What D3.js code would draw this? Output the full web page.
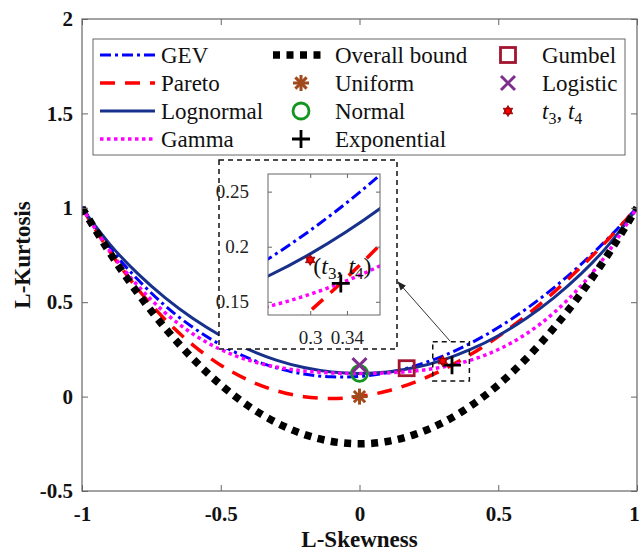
<!DOCTYPE html>
<html>
<head>
<meta charset="utf-8">
<script src="https://cdn.jsdelivr.net/npm/d3@7"></script>
<style>
  body { margin: 0; background: #fff; }
  svg { display: block; }
</style>
</head>
<body>
<svg id="chart"></svg>
<script>
const skewGrid = [-1, -0.9, -0.8, -0.7, -0.6, -0.5, -0.4, -0.3, -0.2, -0.1, 0,
                  0.1, 0.2, 0.3, 0.4, 0.5, 0.6, 0.7, 0.8, 0.9, 1];
// L-kurtosis of each curve at those positions
const gevKurt = [1.0066, 0.7916, 0.6214, 0.4808, 0.3661, 0.2742, 0.2034, 0.1521, 0.1193, 0.1045, 0.1070,
                 0.1265, 0.1626, 0.2148, 0.2827, 0.3658, 0.4638, 0.5762, 0.7029, 0.8443, 1.0008];
const paretoKurt = [0.9989, 0.7684, 0.5719, 0.4073, 0.2728, 0.1665, 0.0866, 0.0315, -0.0003, -0.0104, 0,
                    0.0296, 0.0772, 0.1418, 0.2224, 0.3182, 0.4284, 0.5522, 0.6892, 0.8389, 1.0009];
const lognormKurt = [0.9981, 0.8077, 0.6526, 0.5226, 0.4133, 0.3226, 0.2495, 0.1935, 0.1540, 0.1306, 0.1228,
                     0.1306, 0.1540, 0.1935, 0.2495, 0.3226, 0.4133, 0.5226, 0.6526, 0.8077, 0.9981];
const gammaKurt = [1.0006, 0.7729, 0.5894, 0.4435, 0.3314, 0.2493, 0.1929, 0.1569, 0.1359, 0.1255, 0.1224,
                   0.1255, 0.1359, 0.1569, 0.1929, 0.2493, 0.3314, 0.4435, 0.5894, 0.7729, 1.0006];
const boundKurt = [1, 0.7625, 0.55, 0.3625, 0.2, 0.0625, -0.05, -0.1375, -0.2, -0.2375, -0.25,
                   -0.2375, -0.2, -0.1375, -0.05, 0.0625, 0.2, 0.3625, 0.55, 0.7625, 1];

// single distributions / sample point
const pointNames = ["Uniform", "Normal", "Exponential", "Gumbel", "Logistic", "t3t4"];
const pointSkew = [0, 0, 0.3333, 0.1699, 0, 0.30];
const pointKurt = [0, 0.1226, 0.1667, 0.1504, 0.1667, 0.188];

const xTicks = [-1, -0.5, 0, 0.5, 1];
const yTicks = [-0.5, 0, 0.5, 1, 1.5, 2];
const insetXTicks = [0.3, 0.34];
const insetYTicks = [0.15, 0.2, 0.25];

const serif = "'Liberation Serif', 'Times New Roman', serif";
const width = 641, height = 552;
const svg = d3.select("#chart").attr("width", width).attr("height", height)
    .attr("font-family", serif);
svg.append("rect").attr("width", width).attr("height", height).attr("fill", "#fff");

const x = d3.scaleLinear().domain([-1, 1]).range([82, 637]);
const y = d3.scaleLinear().domain([-0.5, 2]).range([491, 19]);

const curveStyles = [
    {name: "GEV", values: gevKurt, color: "#0000ff", dash: "11,4,3,4", w: 3},
    {name: "Pareto", values: paretoKurt, color: "#ff0000", dash: "15,10", w: 3.5},
    {name: "Lognormal", values: lognormKurt, color: "#17308c", dash: null, w: 3},
    {name: "Gamma", values: gammaKurt, color: "#ff00ff", dash: "3.5,3.5", w: 3.5},
    {name: "Overall bound", values: boundKurt, color: "#000", dash: "7,6.5", w: 7.5}
];

function drawMarker(g, name, cx, cy) {
    const m = g.append("g").attr("transform", `translate(${cx},${cy})`);
    if (name === "Uniform") {
        [0, 45, 90, 135].forEach(a => {
            m.append("line").attr("x1", -8).attr("x2", 8)
                .attr("transform", `rotate(${a})`)
                .attr("stroke", "#a14a1c").attr("stroke-width", 3);
        });
    } else if (name === "Normal") {
        m.append("circle").attr("r", 8).attr("fill", "none")
            .attr("stroke", "#14961e").attr("stroke-width", 2.8);
    } else if (name === "Exponential") {
        m.append("path").attr("d", "M-9,0H9M0,-9V9")
            .attr("stroke", "#000").attr("stroke-width", 2.8);
    } else if (name === "Gumbel") {
        m.append("rect").attr("x", -7.5).attr("y", -7.5).attr("width", 15).attr("height", 15)
            .attr("fill", "none").attr("stroke", "#a2142f").attr("stroke-width", 2.8);
    } else if (name === "Logistic") {
        m.append("path").attr("d", "M-7,-7L7,7M-7,7L7,-7")
            .attr("stroke", "#7e2f8e").attr("stroke-width", 3);
    } else {
        const tri = k => d3.range(3).map(i => {
            const a = (i * 120 + k) * Math.PI / 180;
            return [5.5 * Math.sin(a), -5.5 * Math.cos(a)];
        });
        const p = t => "M" + t.map(d => d.join(",")).join("L") + "Z";
        m.append("path").attr("d", p(tri(0)) + p(tri(180)))
            .attr("fill", "#f00").attr("stroke", "#7a0000").attr("stroke-width", 0.8);
    }
}

// ---- main plot curves
svg.append("clipPath").attr("id", "plotClip").append("rect")
    .attr("x", 82).attr("y", 19).attr("width", 555).attr("height", 472);

const plotG = svg.append("g").attr("clip-path", "url(#plotClip)");

function curveLine(xs, ys, values) {
    return d3.line()
        .x((d, i) => xs(skewGrid[i]))
        .y(d => ys(d))
        .curve(d3.curveNatural)(values);
}

curveStyles.forEach(c => {
    plotG.append("path")
        .attr("d", curveLine(x, y, c.values))
        .attr("fill", "none")
        .attr("stroke", c.color)
        .attr("stroke-width", c.w)
        .attr("stroke-dasharray", c.dash);
});

pointNames.forEach((n, i) => drawMarker(plotG, n, x(pointSkew[i]), y(pointKurt[i])));

// ---- zoom box and arrow
svg.append("rect")
    .attr("x", x(0.264)).attr("y", y(0.291))
    .attr("width", x(0.396) - x(0.264)).attr("height", y(0.083) - y(0.291))
    .attr("fill", "none").attr("stroke", "#111").attr("stroke-width", 1.5)
    .attr("stroke-dasharray", "5,4");

svg.append("defs").append("marker")
    .attr("id", "arrowHead").attr("viewBox", "0 0 10 10")
    .attr("refX", 9).attr("refY", 5)
    .attr("markerWidth", 9).attr("markerHeight", 9)
    .attr("markerUnits", "userSpaceOnUse")
    .attr("orient", "auto")
    .append("path").attr("d", "M0,1L10,5L0,9Z").attr("fill", "#222");

svg.append("line")
    .attr("x1", 450).attr("y1", 341).attr("x2", 398).attr("y2", 282)
    .attr("stroke", "#333").attr("stroke-width", 1)
    .attr("marker-end", "url(#arrowHead)");

// ---- inset
svg.append("rect")
    .attr("x", 219).attr("y", 160).attr("width", 178).attr("height", 189)
    .attr("fill", "#fff").attr("stroke", "#111").attr("stroke-width", 1.5)
    .attr("stroke-dasharray", "5,4");

const xi = d3.scaleLinear().domain([0.254, 0.376]).range([268, 380]);
const yi = d3.scaleLinear().domain([0.138, 0.266]).range([315, 174]);

svg.append("clipPath").attr("id", "insetClip").append("rect")
    .attr("x", 268).attr("y", 174).attr("width", 112).attr("height", 141);
const insetG = svg.append("g").attr("clip-path", "url(#insetClip)");

curveStyles.forEach(c => {
    insetG.append("path")
        .attr("d", curveLine(xi, yi, c.values))
        .attr("fill", "none")
        .attr("stroke", c.color)
        .attr("stroke-width", c.w)
        .attr("stroke-dasharray", c.dash);
});
["Exponential", "t3t4"].forEach(n => {
    const i = pointNames.indexOf(n);
    drawMarker(insetG, n, xi(pointSkew[i]), yi(pointKurt[i]));
});

const tLabel = svg.append("text")
    .attr("x", xi(pointSkew[5]) + 3).attr("y", yi(pointKurt[5]) + 14)
    .attr("font-family", serif).attr("font-size", 24).attr("fill", "#111");
tLabel.append("tspan").text("(");
tLabel.append("tspan").attr("font-style", "italic").text("t");
tLabel.append("tspan").attr("font-size", 17).attr("dy", 5).text("3");
tLabel.append("tspan").attr("dy", -5).text(", ");
tLabel.append("tspan").attr("font-style", "italic").text("t");
tLabel.append("tspan").attr("font-size", 17).attr("dy", 5).text("4");
tLabel.append("tspan").attr("dy", -5).text(")");

svg.append("rect")
    .attr("x", 268).attr("y", 174).attr("width", 112).attr("height", 141)
    .attr("fill", "none").attr("stroke", "#666").attr("stroke-width", 1);

const insetLeft = svg.append("g").attr("transform", "translate(268,0)")
    .call(d3.axisLeft(yi).tickValues(insetYTicks).tickSizeInner(-4).tickSizeOuter(0)
        .tickPadding(19).tickFormat(d => String(d)));
const insetRight = svg.append("g").attr("transform", "translate(380,0)")
    .call(d3.axisRight(yi).tickValues(insetYTicks).tickSizeInner(-4).tickSizeOuter(0).tickFormat(""));
const insetBottom = svg.append("g").attr("transform", "translate(0,315)")
    .call(d3.axisBottom(xi).tickValues(insetXTicks).tickSizeInner(-4).tickSizeOuter(0)
        .tickPadding(16).tickFormat(d => String(d)));
const insetTop = svg.append("g").attr("transform", "translate(0,174)")
    .call(d3.axisTop(xi).tickValues(insetXTicks).tickSizeInner(-4).tickSizeOuter(0).tickFormat(""));
[insetLeft, insetRight, insetBottom, insetTop].forEach(a => {
    a.attr("font-family", serif).attr("font-size", 19);
    a.select(".domain").remove();
    a.selectAll("line").attr("stroke", "#666");
    a.selectAll("text").attr("fill", "#222");
});

// ---- legend
const legend = svg.append("g").attr("font-family", serif).attr("font-size", 23);
legend.append("rect")
    .attr("x", 93).attr("y", 39).attr("width", 532).attr("height", 116)
    .attr("fill", "#fff").attr("stroke", "#666").attr("stroke-width", 1);

const rowY = i => 55 + i * 28;
curveStyles.slice(0, 4).forEach((c, i) => {
    legend.append("line").attr("x1", 100).attr("x2", 155).attr("y1", rowY(i)).attr("y2", rowY(i))
        .attr("stroke", c.color).attr("stroke-width", c.w).attr("stroke-dasharray", c.dash);
    legend.append("text").attr("x", 161).attr("y", rowY(i)).attr("dy", "0.33em")
        .attr("fill", "#111").text(c.name);
});
const bound = curveStyles[4];
legend.append("line").attr("x1", 273).attr("x2", 324).attr("y1", rowY(0)).attr("y2", rowY(0))
    .attr("stroke", bound.color).attr("stroke-width", bound.w).attr("stroke-dasharray", bound.dash);
legend.append("text").attr("x", 335).attr("y", rowY(0)).attr("dy", "0.33em")
    .attr("fill", "#111").text(bound.name);

const legendSlots = [
    {n: "Uniform", col: 1, row: 1},
    {n: "Normal", col: 1, row: 2},
    {n: "Exponential", col: 1, row: 3},
    {n: "Gumbel", col: 2, row: 0},
    {n: "Logistic", col: 2, row: 1},
    {n: "t3t4", col: 2, row: 2}
];
const colMarkX = [0, 301, 508], colTextX = [0, 335, 542];
legendSlots.forEach(s => {
    drawMarker(legend, s.n, colMarkX[s.col], rowY(s.row));
    const t = legend.append("text").attr("x", colTextX[s.col]).attr("y", rowY(s.row))
        .attr("dy", "0.33em").attr("fill", "#111");
    if (s.n === "t3t4") {
        t.append("tspan").attr("font-style", "italic").text("t");
        t.append("tspan").attr("font-size", 16).attr("dy", 5).text("3");
        t.append("tspan").attr("dy", -5).text(", ");
        t.append("tspan").attr("font-style", "italic").text("t");
        t.append("tspan").attr("font-size", 16).attr("dy", 5).text("4");
    } else {
        t.text(s.n);
    }
});

// ---- main axes
const fmt = d => String(d);
const axes = [
    svg.append("g").attr("transform", "translate(0,491)")
        .call(d3.axisBottom(x).tickValues(xTicks).tickSizeInner(-6).tickSizeOuter(0).tickPadding(15).tickFormat(fmt)),
    svg.append("g").attr("transform", "translate(0,19)")
        .call(d3.axisTop(x).tickValues(xTicks).tickSizeInner(-6).tickSizeOuter(0).tickFormat("")),
    svg.append("g").attr("transform", "translate(82,0)")
        .call(d3.axisLeft(y).tickValues(yTicks).tickSizeInner(-6).tickSizeOuter(0).tickPadding(9).tickFormat(fmt)),
    svg.append("g").attr("transform", "translate(637,0)")
        .call(d3.axisRight(y).tickValues(yTicks).tickSizeInner(-6).tickSizeOuter(0).tickFormat(""))
];
axes.forEach(a => {
    a.attr("font-family", serif).attr("font-size", 21).attr("font-weight", "bold");
    a.select(".domain").remove();
    a.selectAll("line").attr("stroke", "#666");
    a.selectAll("text").attr("fill", "#111");
});
// keep the right-most tick label inside the picture
axes[0].selectAll(".tick text").filter(d => d === 1).attr("dx", -3);

svg.append("rect")
    .attr("x", 82).attr("y", 19).attr("width", 555).attr("height", 472)
    .attr("fill", "none").attr("stroke", "#666").attr("stroke-width", 1.2);

svg.append("text").attr("x", 359.5).attr("y", 547)
    .attr("text-anchor", "middle").attr("font-size", 23).attr("font-weight", "bold")
    .attr("fill", "#111").text("L-Skewness");
svg.append("text").attr("transform", "translate(22,255) rotate(-90)").attr("dy", "0.35em")
    .attr("text-anchor", "middle").attr("font-size", 23).attr("font-weight", "bold")
    .attr("fill", "#111").text("L-Kurtosis");
</script>
</body>
</html>
